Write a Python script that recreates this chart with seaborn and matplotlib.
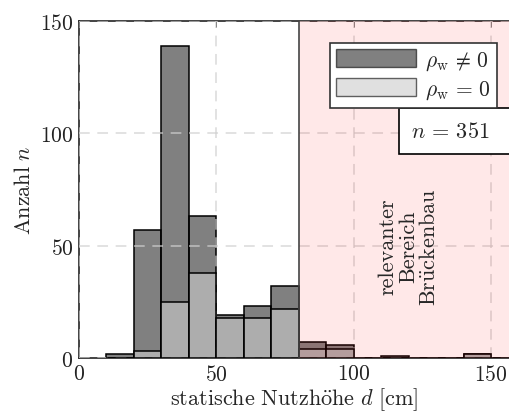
import numpy as np
import pandas as pd
import matplotlib
matplotlib.use("Agg")
import matplotlib.pyplot as plt
import seaborn as sns
from matplotlib.patches import Patch, Rectangle

# ---- data (counts per 10 cm bin) ----
bin_edges = [10, 20, 30, 40, 50, 60, 70, 80, 90, 100, 110, 120, 130, 140, 150, 160]
counts_all = [2, 57, 139, 63, 19, 23, 32, 7, 6, 0, 1, 0, 0, 2, 0]      # rho_w != 0 (total)
counts_rho0 = [0, 3, 25, 38, 18, 18, 22, 4, 4, 0, 0, 0, 0, 2, 0]       # rho_w = 0
legend_labels = [r"$\rho_{\mathrm{w}}\,\neq\,0$", r"$\rho_{\mathrm{w}}\,=\,0$"]
n_total = 351
region_start = 80

centers = [(a + b) / 2 for a, b in zip(bin_edges[:-1], bin_edges[1:])]
df = pd.DataFrame({"d": centers, "all": counts_all, "rho0": counts_rho0})

sns.set_style("white")
plt.rcParams["font.family"] = "serif"
plt.rcParams["font.serif"] = ["cmr10", "DejaVu Serif"]
plt.rcParams["mathtext.fontset"] = "cm"
plt.rcParams["axes.formatter.use_mathtext"] = True

fig = plt.figure(figsize=(5.1, 4.14), dpi=100)
ax = fig.add_axes([79 / 510, 1 - 359 / 414, 1 - 79 / 510, (359 - 22) / 414])

dark_c = (0.17, 0.17, 0.17)
light_c = (0.80, 0.80, 0.80)
alpha = 0.6
sns.histplot(data=df, x="d", weights="all", bins=bin_edges, ax=ax, color=dark_c,
             alpha=alpha, edgecolor="black", linewidth=1.1, zorder=2)
sns.histplot(data=df, x="d", weights="rho0", bins=bin_edges, ax=ax, color=light_c,
             alpha=alpha, edgecolor="black", linewidth=1.1, zorder=3)

# highlighted region (translucent, drawn over the bars)
ax.axvspan(region_start, 200, facecolor=(1.0, 0.0, 0.0), alpha=0.09, linewidth=0, zorder=3.5)
ax.axvline(region_start, color="#444444", linewidth=1.2, zorder=3.6)

ax.set_xlim(0, (510 - 79) / 2.747)
ax.set_ylim(0, 150)
ax.set_xticks([0, 50, 100, 150])
ax.set_yticks([0, 50, 100, 150])
ax.tick_params(axis="both", direction="in", length=4, width=0.6, color="#777777",
               labelsize=15.5, top=True, pad=4)
for lab in ax.get_xticklabels() + ax.get_yticklabels():
    lab.set_color("#222222")

ax.grid(True, linestyle=(0, (7, 5)), color="#d0d0d0", linewidth=1.1, alpha=0.8)
ax.set_axisbelow(False)
for gl in ax.get_xgridlines() + ax.get_ygridlines():
    gl.set_zorder(4)

for s in ["left", "bottom", "top"]:
    ax.spines[s].set_color("#222222")
    ax.spines[s].set_linewidth(1.2)
ax.spines["right"].set_visible(False)

ax.set_xlabel(r"$\mathrm{statische\ Nutzh\ddot{o}he}\ d\ [\mathrm{cm}]$", fontsize=16, labelpad=1)
ax.set_ylabel(r"$\mathrm{Anzahl}\ n$", fontsize=16, labelpad=4)

ax.text(120, 50, "relevanter\nBereich\n" + r"$\mathrm{Br\ddot{u}ckenbau}$",
        rotation=90, ha="center", va="center", multialignment="center",
        fontsize=16, zorder=5, linespacing=1.05)

handles = [Patch(facecolor=dark_c, alpha=alpha, edgecolor="black", linewidth=1.0),
           Patch(facecolor=light_c, alpha=alpha, edgecolor="black", linewidth=1.0)]
leg = ax.legend(handles, legend_labels, loc="upper right", bbox_to_anchor=(0.970, 0.935),
                borderaxespad=0, fancybox=False, framealpha=1, edgecolor="#333333",
                fontsize=15.5, handlelength=3.7, handleheight=0.9, handletextpad=0.4,
                labelspacing=0.3, borderpad=0.3)
leg.get_frame().set_linewidth(1.2)
leg.set_zorder(6)

# n = 351 box
ax.add_patch(Rectangle((0.742, 0.605), 0.4, 0.137, transform=ax.transAxes,
                       facecolor="white", edgecolor="black", linewidth=1.2,
                       clip_on=False, zorder=6))
ax.text(0.861, 0.674, rf"$n\,=\,{n_total}$", transform=ax.transAxes, ha="center",
        va="center", fontsize=16, zorder=7)

fig.savefig("out.png", dpi=100)
